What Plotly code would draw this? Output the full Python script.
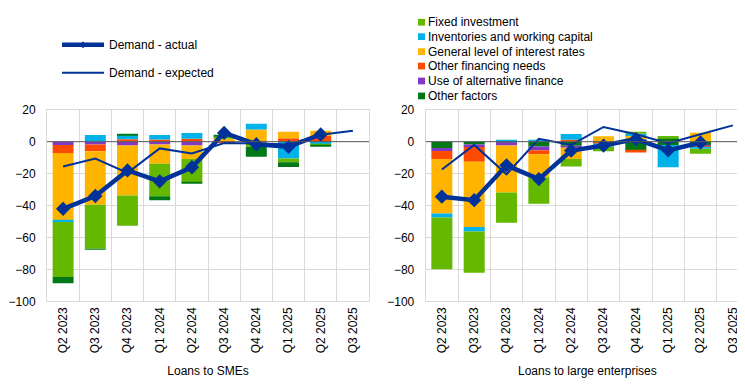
import plotly.graph_objects as go

categories = ["Q2 2023", "Q3 2023", "Q4 2023", "Q1 2024", "Q2 2024",
              "Q3 2024", "Q4 2024", "Q1 2025", "Q2 2025", "Q3 2025"]

# ---- Loans to SMEs ----
sme_fixed_investment = [-34.4, -27.6, -19.0, -20.4, -14.4, 1.6, -2.6, -2.4, -0.4]
sme_inventories = [-1.2, 4.2, 2.6, 2.8, 3.6, 0.0, 3.6, -10.5, -1.2]
sme_interest_rates = [-42.0, -33.4, -31.2, -12.0, -8.4, 1.8, 7.6, 4.0, 3.2]
sme_other_financing = [-5.0, -4.2, 1.6, 1.4, 1.8, -0.8, 0.0, 2.2, 3.6]
sme_alternative_finance = [-2.0, -1.8, -2.4, -1.8, -2.4, 0.0, -0.6, 0.0, -0.4]
sme_other_factors = [-4.0, -0.6, 0.6, -2.4, -0.6, 1.0, -6.2, -3.0, -0.8]
sme_demand_actual = [-42.0, -34.0, -18.0, -24.8, -16.0, 5.5, -1.6, -3.2, 4.5, None]
sme_demand_expected = [-15.5, -10.6, -19.5, -4.2, -7.4, -0.8, -1.2, -1.8, 4.4, 6.8]

# ---- Loans to large enterprises ----
large_fixed_investment = [-32.4, -25.8, -19.0, -16.6, -4.8, -2.8, 1.0, 1.2, -3.2]
large_inventories = [-2.4, -2.8, 0.8, 0.8, 3.6, -2.0, 1.4, -14.0, -0.8]
large_interest_rates = [-34.2, -40.8, -29.4, -14.4, -7.2, 3.4, 2.0, 0.0, 5.6]
large_other_financing = [-5.0, -9.2, 0.0, -2.4, 1.2, -0.6, -1.2, 0.0, -0.8]
large_alternative_finance = [-1.8, -1.6, -2.0, -2.4, -1.0, -0.6, 0.0, 0.0, -0.8]
large_other_factors = [-4.0, -1.8, -0.4, -3.0, -2.6, 0.0, -5.6, -2.0, -2.0]
large_other_factors_b = [0.0, 0.0, 0.0, 0.0, 0.0, 0.0, 1.6, 2.4, 0.0]
large_demand_actual = [-34.4, -36.6, -14.8, -23.4, -5.6, -2.4, 1.6, -5.4, -0.5, None]
large_demand_expected = [-17.4, -2.0, -20.4, 1.8, -2.0, 9.2, 4.6, -1.0, 4.6, 10.2]

legend_bar_names = ["Fixed investment", "Inventories and working capital",
                    "General level of interest rates", "Other financing needs",
                    "Use of alternative finance", "Other factors"]
legend_line_names = ["Demand - actual", "Demand - expected"]

C_GREEN = "#65b800"
C_LBLUE = "#00b1ea"
C_YELLOW = "#ffb400"
C_RED = "#ff4b00"
C_PURPLE = "#8139c6"
C_DGREEN = "#007816"
C_BLUE = "#003299"
legend_colors = [C_GREEN, C_LBLUE, C_YELLOW, C_RED, C_PURPLE, C_DGREEN]

FONT = "Liberation Sans, Arial, sans-serif"
W, H = 745, 385

fig = go.Figure()

def add_bars(series, xa, ya):
    for name, vals, col in series:
        fig.add_trace(go.Bar(x=categories[:len(vals)], y=vals, name=name,
                             marker=dict(color=col, line=dict(width=0)),
                             width=0.65, xaxis=xa, yaxis=ya, showlegend=False,
                             hoverinfo="x+y+name"))

add_bars([
    ("Use of alternative finance", sme_alternative_finance, C_PURPLE),
    ("Other financing needs", sme_other_financing, C_RED),
    ("General level of interest rates", sme_interest_rates, C_YELLOW),
    ("Inventories and working capital", sme_inventories, C_LBLUE),
    ("Fixed investment", sme_fixed_investment, C_GREEN),
    ("Other factors", sme_other_factors, C_DGREEN),
], "x", "y")

add_bars([
    ("Other factors", large_other_factors, C_DGREEN),
    ("Other factors", large_other_factors_b, C_DGREEN),
    ("Use of alternative finance", large_alternative_finance, C_PURPLE),
    ("Other financing needs", large_other_financing, C_RED),
    ("General level of interest rates", large_interest_rates, C_YELLOW),
    ("Inventories and working capital", large_inventories, C_LBLUE),
    ("Fixed investment", large_fixed_investment, C_GREEN),
], "x2", "y2")

for xa, ya, exp, act in [("x", "y", sme_demand_expected, sme_demand_actual),
                         ("x2", "y2", large_demand_expected, large_demand_actual)]:
    fig.add_trace(go.Scatter(x=categories, y=exp, mode="lines", name="Demand - expected",
                             line=dict(color=C_BLUE, width=2), xaxis=xa, yaxis=ya,
                             showlegend=False))
    fig.add_trace(go.Scatter(x=categories, y=act, mode="lines+markers", name="Demand - actual",
                             line=dict(color=C_BLUE, width=4.5),
                             marker=dict(symbol="diamond", size=11, color=C_BLUE),
                             xaxis=xa, yaxis=ya, showlegend=False, connectgaps=False))

def px_x(v):
    return v / W

def px_y(v):
    return 1 - v / H

ydom = [px_y(297.3), px_y(98.3)]
grid = "#d9d9d9"
xcommon = dict(type="category", categoryorder="array", categoryarray=categories,
               tickangle=-90, tickson="boundaries", showgrid=True, gridcolor=grid,
               gridwidth=1, showline=True, linecolor=grid, mirror=True, ticks="",
               tickfont=dict(family=FONT, size=12, color="#000000"),
               range=[-0.5, 9.5], fixedrange=True)
ycommon = dict(range=[-100, 20], dtick=20, showgrid=True, gridcolor=grid, gridwidth=1,
               zeroline=False,
               showline=True, linecolor=grid, mirror=True,
               ticks="outside", ticklen=8, tickcolor="rgba(0,0,0,0)",
               tickfont=dict(family=FONT, size=12, color="#000000"), domain=ydom)

fig.update_layout(
    width=W, height=H, margin=dict(l=0, r=0, t=0, b=0),
    paper_bgcolor="white", plot_bgcolor="white",
    barmode="relative", showlegend=False,
    font=dict(family=FONT, size=12, color="#000000"),
    xaxis=dict(xcommon, domain=[px_x(39), px_x(361)], anchor="y",
               title=dict(text="Loans to SMEs", standoff=14,
                          font=dict(family=FONT, size=12, color="#000000"))),
    yaxis=dict(ycommon, anchor="x"),
    xaxis2=dict(xcommon, domain=[px_x(417.7), px_x(741)], anchor="y2",
                title=dict(text="Loans to large enterprises", standoff=14,
                           font=dict(family=FONT, size=12, color="#000000"))),
    yaxis2=dict(ycommon, anchor="x2"),
)

shapes = []
annotations = []
# zero lines drawn over the bars (as in the original)
for xa, ya in [("x", "y"), ("x2", "y2")]:
    shapes.append(dict(type="line", xref=f"{xa} domain", yref=ya, x0=0, x1=1, y0=0, y1=0,
                       line=dict(color="#595959", width=1), layer="above"))

# line legend (left)
line_y = [31, 60]
line_w = [4.5, 2]
for name, yy, lw in zip(legend_line_names, line_y, line_w):
    shapes.append(dict(type="line", xref="paper", yref="paper",
                       x0=px_x(54), x1=px_x(96), y0=px_y(yy), y1=px_y(yy),
                       line=dict(color=C_BLUE, width=lw)))
    annotations.append(dict(text=name, xref="paper", yref="paper", x=px_x(99), y=px_y(yy),
                            xanchor="left", yanchor="middle", showarrow=False,
                            font=dict(family=FONT, size=12, color="#000000")))
# small diamond on the "actual" sample
cx, cy, r = 75, 31, 3.5
shapes.append(dict(type="path", xref="paper", yref="paper",
                   path=f"M {px_x(cx-r)} {px_y(cy)} L {px_x(cx)} {px_y(cy-r)} L {px_x(cx+r)} {px_y(cy)} L {px_x(cx)} {px_y(cy+r)} Z",
                   fillcolor=C_BLUE, line=dict(width=0)))
# bar legend (right)
bar_y = [7.5, 22.5, 38, 53, 68.5, 84]
for name, col, yy in zip(legend_bar_names, legend_colors, bar_y):
    shapes.append(dict(type="rect", xref="paper", yref="paper",
                       x0=px_x(410), x1=px_x(417), y0=px_y(yy - 3.5), y1=px_y(yy + 3.5),
                       fillcolor=col, line=dict(width=0)))
    annotations.append(dict(text=name, xref="paper", yref="paper", x=px_x(418), y=px_y(yy),
                            xanchor="left", yanchor="middle", showarrow=False,
                            font=dict(family=FONT, size=12, color="#000000")))

fig.update_layout(shapes=shapes, annotations=annotations)

fig.write_html("out.html")
